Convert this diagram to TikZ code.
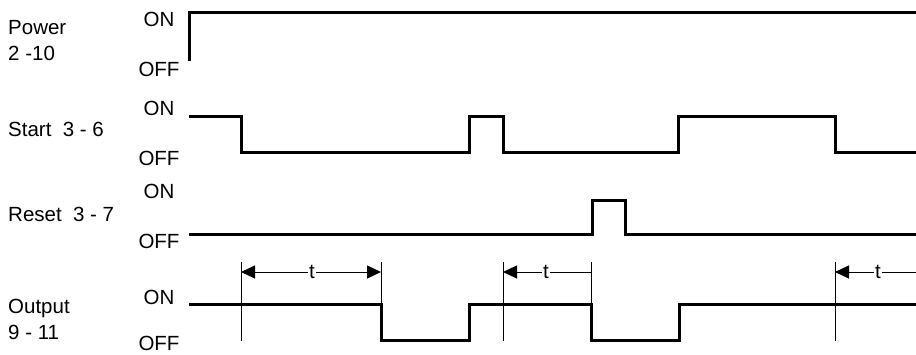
\documentclass[tikz,border=0pt]{standalone}
\usepackage{fontspec}
\setmainfont{Liberation Sans}
\usetikzlibrary{arrows.meta}
\begin{document}
\begin{tikzpicture}[x=1pt,y=-1pt,
  lbl/.style={anchor=base west,inner sep=0pt,font=\fontsize{20.5}{24}\selectfont},
  lvl/.style={anchor=base,inner sep=0pt,font=\fontsize{20.5}{24}\selectfont},
  sig/.style={line width=3pt,line join=miter,line cap=butt},
  guide/.style={line width=1pt},
  tarr/.style={line width=1pt},
  tlbl/.style={fill=white,inner sep=1pt,font=\fontsize{20.5}{24}\selectfont}]
\useasboundingbox (0,0) rectangle (916,354);
% left labels
\node[lbl] (pw1) at (8,34) {Power};
\node[lbl] (pw2) at (8,60) {2 -10};
\node[lbl] (st) at (8,136) {Start\ \ 3 - 6};
\node[lbl] (rs) at (8,221) {Reset\ \ 3 - 7};
\node[lbl] (op1) at (8,313) {Output};
\node[lbl] (op2) at (8,339) {9 - 11};
% level labels
\node[lvl] (on1) at (159,26) {ON};
\node[lvl] (off1) at (159,76) {OFF};
\node[lvl] (on2) at (159,115) {ON};
\node[lvl] (off2) at (159,165) {OFF};
\node[lvl] (on3) at (159,198) {ON};
\node[lvl] (off3) at (159,248) {OFF};
\node[lvl] (on4) at (159,304) {ON};
\node[lvl] (off4) at (159,350) {OFF};
% signals
\draw[sig] (189,61) -- (189,12) -- (916,12);
\draw[sig] (189,116) -- (241,116) -- (241,152) -- (469,152) -- (469,116) -- (503,116) -- (503,152)
  -- (678,152) -- (678,116) -- (835,116) -- (835,152) -- (916,152);
\draw[sig] (189,234) -- (592,234) -- (592,200) -- (625,200) -- (625,234) -- (916,234);
\draw[sig] (189,304) -- (381,304) -- (381,340) -- (469,340) -- (469,304) -- (591,304) -- (591,340)
  -- (679,340) -- (679,304) -- (916,304);
% guides
\coordinate (g1t) at (241,262); \coordinate (g1b) at (241,341);
\coordinate (g2t) at (381,262); \coordinate (g2b) at (381,304);
\coordinate (g3t) at (503,262); \coordinate (g3b) at (503,341);
\coordinate (g4t) at (591,262); \coordinate (g4b) at (591,304);
\coordinate (g5t) at (835,262); \coordinate (g5b) at (835,341);
\coordinate (rend) at (916,272);
\draw[guide] (g1t) -- (g1b);
\draw[guide] (g2t) -- (g2b);
\draw[guide] (g3t) -- (g3b);
\draw[guide] (g4t) -- (g4b);
\draw[guide] (g5t) -- (g5b);
% t arrows
\coordinate (a1l) at (241,272); \coordinate (a1r) at (381,272);
\coordinate (a2l) at (503,272); \coordinate (a2r) at (591,272);
\coordinate (a3l) at (835,272);
\draw[tarr,{Triangle[length=14pt,width=13pt]}-{Triangle[length=14pt,width=13pt]}] (a1l) -- (a1r);
\node[tlbl] (t1) at (312,272) {t};
\draw[tarr,{Triangle[length=14pt,width=13pt]}-] (a2l) -- (a2r);
\node[tlbl] (t2) at (546,272) {t};
\draw[tarr,{Triangle[length=14pt,width=13pt]}-] (a3l) -- (rend);
\node[tlbl] (t3) at (878,272) {t};
\end{tikzpicture}
\end{document}
